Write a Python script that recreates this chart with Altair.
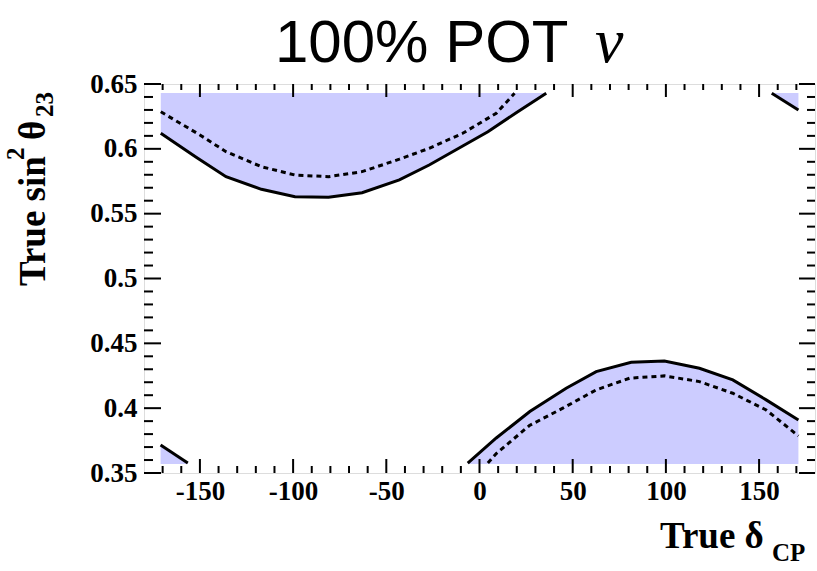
import altair as alt
import pandas as pd

# Contour vertices: true delta_CP [deg] vs true sin^2(theta23)
up_solid_d = [-171, -152, -136, -117, -99, -81, -63, -43, -27, -9, 4.5, 19.7, 35.8]
up_solid_s = [0.612, 0.5935, 0.5785, 0.5688, 0.5631, 0.5626, 0.5662, 0.576, 0.5875, 0.6022, 0.6132, 0.6279, 0.6428]
up_dot_d = [-171, -150, -136, -117, -99, -81, -63, -43, -27, -9, 9, 18.8]
up_dot_s = [0.6286, 0.6107, 0.5978, 0.5862, 0.5798, 0.5785, 0.5824, 0.592, 0.6004, 0.612, 0.6274, 0.6428]
lo_solid_d = [-6.3, 9, 27, 46.5, 62.6, 81.4, 99.2, 118, 135.9, 153.8, 171.1]
lo_solid_s = [0.3576, 0.377, 0.3974, 0.4154, 0.4282, 0.4354, 0.4364, 0.4308, 0.4218, 0.4064, 0.3909]
lo_dot_d = [4.5, 9, 26.8, 44.7, 62.6, 80.5, 99.2, 118, 135.9, 153.8, 171.1]
lo_dot_s = [0.3577, 0.365, 0.3866, 0.40, 0.4141, 0.4231, 0.4249, 0.4205, 0.4115, 0.3986, 0.3786]
tr_solid_d = [156.8, 171.1]
tr_solid_s = [0.6428, 0.63]
bl_solid_d = [-171.1, -156.5]
bl_solid_s = [0.3716, 0.3577]

# grid edges of the scanned region
grid_lo = 0.357
grid_hi = 0.643

# axis ticks
x_major = [-150, -100, -50, 0, 50, 100, 150]
x_minor = [v for v in range(-170, 180, 10) if v % 50 != 0]
y_major = [0.35, 0.4, 0.45, 0.5, 0.55, 0.6, 0.65]
y_minor = [round(0.35 + 0.01 * i, 2) for i in range(31) if i % 5 != 0]

W, H = 671, 389
FILL = "#ccccff"
SERIF = "Liberation Serif"

xs = alt.Scale(domain=[-180, 180], nice=False, zero=False)
ys = alt.Scale(domain=[0.35, 0.65], nice=False, zero=False)
x_axis = alt.Axis(values=x_major, labelExpr="'' + datum.value", ticks=False, domain=False, grid=False,
                  labelFont=SERIF, labelFontWeight="bold", labelFontSize=27, labelColor="black",
                  labelPadding=5, title=None)
y_axis = alt.Axis(values=y_major, labelExpr="'' + datum.value", ticks=False, domain=False, grid=False,
                  labelFont=SERIF, labelFontWeight="bold", labelFontSize=27, labelColor="black",
                  labelPadding=7, title=None)


def frame(d, s):
    return pd.DataFrame({"d": d, "s": s})


def X():
    return alt.X("d:Q", scale=xs, axis=x_axis)


def Y():
    return alt.Y("s:Q", scale=ys, axis=y_axis)


def band(d, s, edge):
    return alt.Chart(frame(d, s)).mark_area(color=FILL, opacity=1).encode(
        x=X(), y=Y(), y2=alt.datum(edge))


def line(d, s, dash=None):
    kw = dict(color="black", strokeWidth=3, strokeCap="butt")
    if dash:
        kw["strokeDash"] = dash
    return alt.Chart(frame(d, s)).mark_line(**kw).encode(x=X(), y=Y())


fills = [
    band(up_solid_d, up_solid_s, grid_hi),
    band(tr_solid_d, tr_solid_s, grid_hi),
    band(lo_solid_d, lo_solid_s, grid_lo),
    band(bl_solid_d, bl_solid_s, grid_lo),
]
lines = [
    line(up_solid_d, up_solid_s),
    line(tr_solid_d, tr_solid_s),
    line(lo_solid_d, lo_solid_s),
    line(bl_solid_d, bl_solid_s),
    line(up_dot_d, up_dot_s, [5, 4]),
    line(lo_dot_d, lo_dot_s, [5, 4]),
]


def xticks(vals, length):
    df = pd.DataFrame({"d": vals})
    bottom = alt.Chart(df).mark_rule(color="black", strokeWidth=2).encode(
        x=X(), y=alt.value(H), y2=alt.value(H - length))
    top = alt.Chart(df).mark_rule(color="black", strokeWidth=2).encode(
        x=X(), y=alt.value(0), y2=alt.value(length - 1))
    return [bottom, top]


def yticks(vals, length):
    df = pd.DataFrame({"s": vals})
    left = alt.Chart(df).mark_rule(color="black", strokeWidth=2).encode(
        y=Y(), x=alt.value(0), x2=alt.value(length))
    right = alt.Chart(df).mark_rule(color="black", strokeWidth=2).encode(
        y=Y(), x=alt.value(W - length + 1), x2=alt.value(W))
    return [left, right]


ticks = xticks(x_major, 14) + xticks(x_minor, 7) + yticks(y_major, 17) + yticks(y_minor, 9)


def label(text, x, y, size, font=SERIF, weight="bold", style="normal", angle=0, align="left"):
    kw = dict(font=font, fontSize=size, fontWeight=weight, fontStyle=style, color="black",
              align=align, baseline="alphabetic")
    if angle:
        kw["angle"] = angle
    return alt.Chart(pd.DataFrame({"t": [text]})).mark_text(**kw).encode(
        text="t:N", x=alt.value(x), y=alt.value(y))


texts = [
    label("100% POT", 131, -22, 60, font="Liberation Sans", weight="normal"),
    label("\u03bd", 451, -22, 64, weight="normal", style="italic"),
    label("True \u03b4", 516, 464, 37),
    label("CP", 628, 477, 25),
    label("True sin", -99, 202, 37, angle=270),
    label("2", -120, 76, 25, angle=270),
    label("\u03b8", -99, 56, 37, angle=270),
    label("23", -91, 33, 25, angle=270),
]

chart = alt.layer(*fills, *lines, *ticks, *texts).properties(
    width=W, height=H,
    padding={"left": 144, "top": 84, "right": 2, "bottom": 98},
    autosize=alt.AutoSizeParams(type="none"),
).configure_view(stroke="black", strokeWidth=2).configure(background="white")

chart.save("out.html", embed_options={"renderer": "svg", "actions": False})
